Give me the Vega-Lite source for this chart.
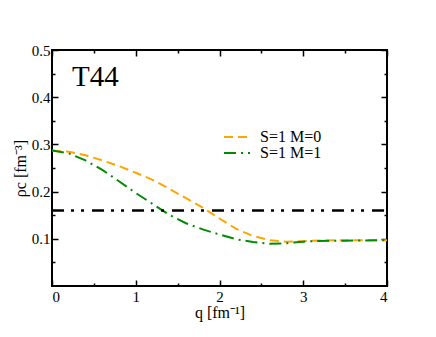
{
  "$schema": "https://vega.github.io/schema/vega-lite/v6.json",
  "width": 335,
  "height": 236,
  "autosize": {"type": "none"},
  "padding": {"left": 52, "top": 50, "right": 49, "bottom": 51},
  "background": "white",
  "config": {
    "font": "Liberation Serif",
    "view": {"stroke": "black", "strokeWidth": 2},
    "axis": {"domain": false, "grid": false, "tickColor": "black", "tickWidth": 1.5}
  },
  "resolve": {"axis": {"x": "independent", "y": "independent"}},
  "layer": [
    {
      "data": {
        "values": [
          {"q": 0.0, "rho": 0.287, "series": "S=1 M=0"},
          {"q": 0.2, "rho": 0.2845, "series": "S=1 M=0"},
          {"q": 0.4, "rho": 0.277, "series": "S=1 M=0"},
          {"q": 0.6, "rho": 0.266, "series": "S=1 M=0"},
          {"q": 0.8, "rho": 0.254, "series": "S=1 M=0"},
          {"q": 1.0, "rho": 0.240, "series": "S=1 M=0"},
          {"q": 1.2, "rho": 0.225, "series": "S=1 M=0"},
          {"q": 1.4, "rho": 0.206, "series": "S=1 M=0"},
          {"q": 1.6, "rho": 0.186, "series": "S=1 M=0"},
          {"q": 1.8, "rho": 0.166, "series": "S=1 M=0"},
          {"q": 2.0, "rho": 0.143, "series": "S=1 M=0"},
          {"q": 2.2, "rho": 0.121, "series": "S=1 M=0"},
          {"q": 2.4, "rho": 0.106, "series": "S=1 M=0"},
          {"q": 2.6, "rho": 0.097, "series": "S=1 M=0"},
          {"q": 2.8, "rho": 0.094, "series": "S=1 M=0"},
          {"q": 3.0, "rho": 0.095, "series": "S=1 M=0"},
          {"q": 3.2, "rho": 0.0965, "series": "S=1 M=0"},
          {"q": 3.5, "rho": 0.097, "series": "S=1 M=0"},
          {"q": 4.0, "rho": 0.097, "series": "S=1 M=0"},
          {"q": 0.0, "rho": 0.287, "series": "S=1 M=1"},
          {"q": 0.2, "rho": 0.281, "series": "S=1 M=1"},
          {"q": 0.4, "rho": 0.266, "series": "S=1 M=1"},
          {"q": 0.6, "rho": 0.246, "series": "S=1 M=1"},
          {"q": 0.8, "rho": 0.222, "series": "S=1 M=1"},
          {"q": 1.0, "rho": 0.197, "series": "S=1 M=1"},
          {"q": 1.2, "rho": 0.174, "series": "S=1 M=1"},
          {"q": 1.4, "rho": 0.151, "series": "S=1 M=1"},
          {"q": 1.6, "rho": 0.133, "series": "S=1 M=1"},
          {"q": 1.8, "rho": 0.120, "series": "S=1 M=1"},
          {"q": 2.0, "rho": 0.109, "series": "S=1 M=1"},
          {"q": 2.2, "rho": 0.099, "series": "S=1 M=1"},
          {"q": 2.4, "rho": 0.093, "series": "S=1 M=1"},
          {"q": 2.6, "rho": 0.0895, "series": "S=1 M=1"},
          {"q": 2.8, "rho": 0.0905, "series": "S=1 M=1"},
          {"q": 3.0, "rho": 0.094, "series": "S=1 M=1"},
          {"q": 3.2, "rho": 0.0955, "series": "S=1 M=1"},
          {"q": 3.5, "rho": 0.096, "series": "S=1 M=1"},
          {"q": 4.0, "rho": 0.097, "series": "S=1 M=1"}
        ]
      },
      "mark": {"type": "line", "strokeWidth": 2, "clip": true},
      "encoding": {
        "x": {
          "field": "q", "type": "quantitative",
          "scale": {"domain": [0, 4], "nice": false},
          "axis": {
            "orient": "bottom",
            "title": "q [fm⁻¹]",
            "titleFont": "Liberation Serif",
            "titleFontSize": 16,
            "titleFontWeight": "normal",
            "titleColor": "black",
            "titlePadding": 0,
            "labelFont": "Liberation Serif",
            "labelFontSize": 15,
            "labelColor": "black",
            "values": [0, 0.5, 1, 1.5, 2, 2.5, 3, 3.5, 4],
            "labelExpr": "datum.value % 1 == 0 ? format(datum.value, 'd') : ''",
            "labelPadding": 9,
            "tickSize": {"condition": {"test": "datum.value % 1 == 0", "value": -6}, "value": -3}
          }
        },
        "y": {
          "field": "rho", "type": "quantitative",
          "scale": {"domain": [0, 0.5], "nice": false, "zero": false},
          "axis": {
            "orient": "left",
            "title": "ρc [fm⁻³]",
            "titleFont": "Liberation Serif",
            "titleFontSize": 16,
            "titleFontWeight": "normal",
            "titleColor": "black",
            "titlePadding": 3,
            "labelFont": "Liberation Serif",
            "labelFontSize": 15,
            "labelColor": "black",
            "values": [0.05, 0.1, 0.15, 0.2, 0.25, 0.3, 0.35, 0.4, 0.45, 0.5],
            "labelExpr": "abs(datum.value * 10 - round(datum.value * 10)) < 0.000001 ? format(datum.value, '.1f') : ''",
            "labelPadding": 8,
            "tickSize": {"condition": {"test": "abs(datum.value * 10 - round(datum.value * 10)) < 0.000001", "value": -6}, "value": -3}
          }
        },
        "color": {
          "field": "series", "type": "nominal",
          "scale": {"domain": ["S=1 M=0", "S=1 M=1"], "range": ["#FFA500", "#008B00"]},
          "legend": {
            "title": null,
            "orient": "none",
            "legendX": 177,
            "legendY": 79,
            "padding": 0,
            "symbolType": "M-2,0H2",
            "symbolSize": 169,
            "symbolStrokeWidth": 2,
            "symbolFillColor": "transparent",
            "labelOffset": 15,
            "labelFont": "Liberation Serif",
            "labelFontSize": 16,
            "labelColor": "black",
            "rowPadding": 0
          }
        },
        "strokeDash": {
          "field": "series", "type": "nominal",
          "scale": {"domain": ["S=1 M=0", "S=1 M=1"], "range": [[9, 5], [12, 5, 2, 5]]},
          "legend": {
            "title": null,
            "orient": "none",
            "legendX": 177,
            "legendY": 79,
            "padding": 0,
            "symbolType": "M-2,0H2",
            "symbolSize": 169,
            "symbolStrokeWidth": 2,
            "symbolFillColor": "transparent",
            "labelOffset": 15,
            "labelFont": "Liberation Serif",
            "labelFontSize": 16,
            "labelColor": "black",
            "rowPadding": 0
          }
        }
      }
    },
    {
      "data": {"values": [{"q0": 0, "q1": 4, "rho": 0.16}]},
      "mark": {"type": "rule", "color": "black", "strokeWidth": 2.5, "strokeDash": [12, 7, 3, 7, 3, 8]},
      "encoding": {
        "x": {
          "field": "q0", "type": "quantitative",
          "axis": {
            "orient": "top",
            "title": null,
            "labels": false,
            "values": [0, 0.5, 1, 1.5, 2, 2.5, 3, 3.5, 4],
            "tickSize": {"condition": {"test": "datum.value % 1 == 0", "value": -6}, "value": -3}
          }
        },
        "x2": {"field": "q1"},
        "y": {
          "field": "rho", "type": "quantitative",
          "axis": {
            "orient": "right",
            "title": null,
            "labels": false,
            "values": [0.05, 0.1, 0.15, 0.2, 0.25, 0.3, 0.35, 0.4, 0.45, 0.5],
            "tickSize": {"condition": {"test": "abs(datum.value * 10 - round(datum.value * 10)) < 0.000001", "value": -6}, "value": -3}
          }
        }
      }
    },
    {
      "data": {"values": [{"q": 0.24, "rho": 0.424, "label": "T44"}]},
      "mark": {"type": "text", "align": "left", "baseline": "alphabetic", "font": "Liberation Serif", "fontSize": 29, "color": "black"},
      "encoding": {
        "x": {"field": "q", "type": "quantitative", "axis": null},
        "y": {"field": "rho", "type": "quantitative", "axis": null},
        "text": {"field": "label"}
      }
    }
  ]
}
